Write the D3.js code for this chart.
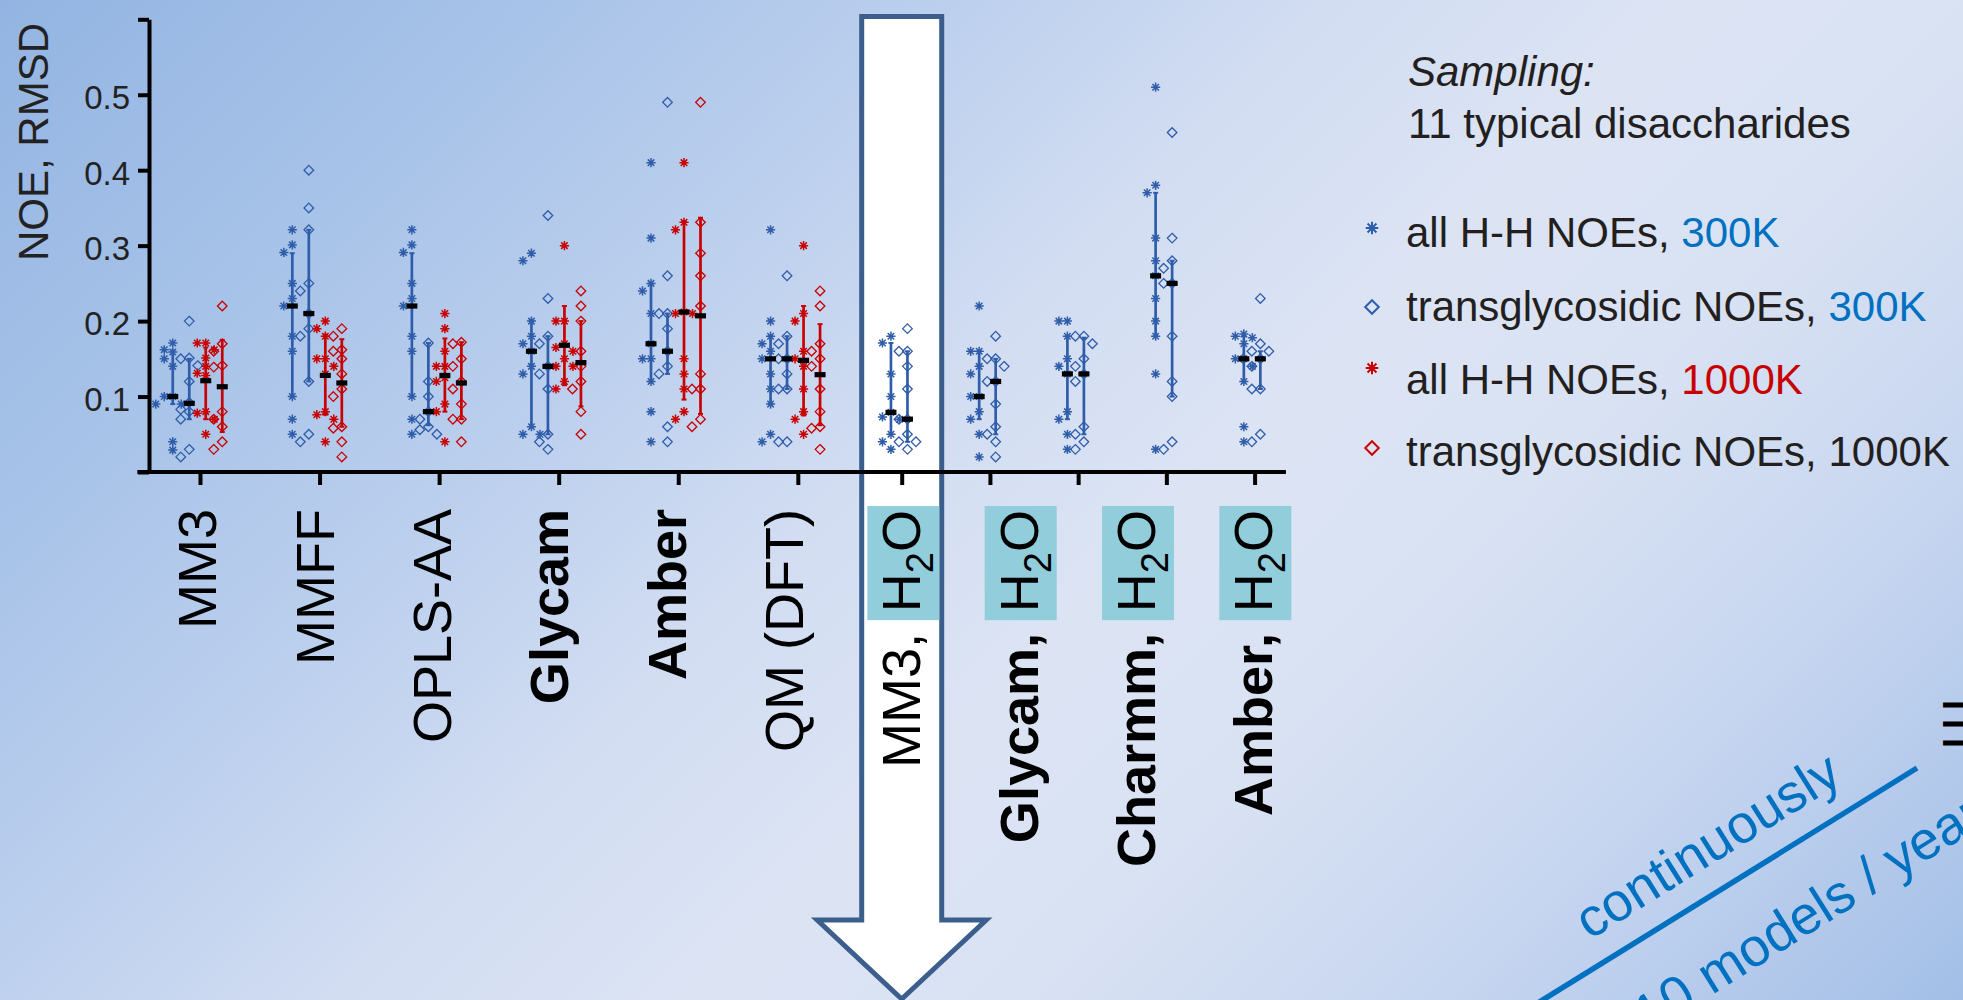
<!DOCTYPE html>
<html><head><meta charset="utf-8">
<script src="https://cdn.jsdelivr.net/npm/d3@7"></script>
<style>
html,body{margin:0;padding:0;overflow:hidden;background:#fff}
svg{display:block}
text{font-family:"Liberation Sans",Arial,Helvetica,sans-serif}
</style></head><body>
<svg id="chart" width="1963" height="1000"></svg>
<script>
// ---------------- data ----------------
// force-field / method groups along the x axis (11 data groups)
const groups = ["MM3","MMFF","OPLS-AA","Glycam","Amber","QM (DFT)",
                "MM3 aq","Glycam aq A","Glycam aq B","Charmm aq","Amber aq"];

// category captions written under the axis
const labelNames = ["MM3","MMFF","OPLS-AA","Glycam","Amber","QM (DFT)","MM3,","Glycam,","Charmm,","Amber,"];
const labelBold  = [false,false,false,true,true,false,false,true,true,true];
const labelWater = [false,false,false,false,false,false,true,true,true,true];

const yTicks = [0,0.1,0.2,0.3,0.4,0.5,0.6];

// RMSD per disaccharide: all H-H NOEs, 300 K
const hh300 = [
  [0.171,0.162,0.159,0.150,0.140,0.100,0.100,0.090,0.090,0.040,0.029],
  [0.321,0.301,0.291,0.250,0.230,0.220,0.180,0.160,0.100,0.070,0.050],
  [0.321,0.301,0.291,0.250,0.230,0.220,0.180,0.160,0.100,0.070,0.050],
  [0.290,0.280,0.200,0.180,0.170,0.160,0.140,0.130,0.060,0.050,0.050],
  [0.410,0.310,0.250,0.240,0.210,0.170,0.150,0.150,0.120,0.080,0.040],
  [0.321,0.200,0.180,0.170,0.160,0.150,0.130,0.110,0.090,0.050,0.040],
  [0.180,0.171,0.130,0.100,0.079,0.073,0.070,0.050,0.040,0.030],
  [0.220,0.160,0.160,0.140,0.130,0.100,0.100,0.080,0.070,0.050,0.020],
  [0.200,0.200,0.180,0.150,0.140,0.130,0.080,0.070,0.050,0.030],
  [0.510,0.380,0.370,0.310,0.280,0.260,0.230,0.200,0.180,0.130,0.030],
  [0.183,0.180,0.178,0.170,0.150,0.150,0.140,0.120,0.060,0.040]
];
// transglycosidic NOEs, 300 K
const tg300 = [
  [0.200,0.151,0.150,0.141,0.120,0.092,0.083,0.080,0.070,0.030,0.020],
  [0.400,0.350,0.321,0.250,0.240,0.210,0.190,0.180,0.120,0.050,0.040],
  [0.171,0.120,0.100,0.080,0.070,0.060,0.056,0.050],
  [0.340,0.230,0.180,0.170,0.140,0.130,0.110,0.050,0.040,0.030],
  [0.490,0.260,0.210,0.210,0.190,0.160,0.140,0.130,0.060,0.040],
  [0.260,0.180,0.170,0.150,0.150,0.130,0.110,0.110,0.040,0.040],
  [0.190,0.160,0.160,0.140,0.110,0.070,0.070,0.050,0.040,0.040,0.030],
  [0.180,0.150,0.150,0.140,0.120,0.120,0.090,0.060,0.050,0.040,0.020],
  [0.180,0.180,0.170,0.150,0.140,0.130,0.120,0.060,0.050,0.040,0.030],
  [0.450,0.310,0.280,0.270,0.250,0.250,0.180,0.120,0.100,0.040,0.030],
  [0.230,0.170,0.160,0.160,0.150,0.150,0.140,0.110,0.110,0.050,0.040]
];
// all H-H NOEs, 1000 K (gas-phase methods only)
const hh1000 = [
  [0.171,0.171,0.162,0.151,0.140,0.131,0.128,0.080,0.078,0.070,0.050],
  [0.200,0.190,0.180,0.150,0.150,0.140,0.130,0.080,0.076,0.070,0.040],
  [0.210,0.190,0.160,0.140,0.140,0.125,0.120,0.090,0.080,0.040],
  [0.300,0.200,0.200,0.170,0.165,0.160,0.150,0.140,0.140,0.120,0.110],
  [0.410,0.331,0.321,0.212,0.210,0.210,0.150,0.130,0.110,0.080,0.070],
  [0.300,0.210,0.200,0.160,0.150,0.140,0.110,0.080,0.070,0.050]
];
// transglycosidic NOEs, 1000 K
const tg1000 = [
  [0.220,0.170,0.160,0.141,0.139,0.080,0.070,0.060,0.040,0.030],
  [0.190,0.180,0.162,0.160,0.150,0.130,0.110,0.100,0.060,0.058,0.040,0.020],
  [0.172,0.170,0.150,0.140,0.120,0.110,0.090,0.070,0.070,0.040],
  [0.240,0.220,0.200,0.160,0.140,0.120,0.110,0.080,0.050],
  [0.490,0.331,0.290,0.260,0.220,0.130,0.110,0.110,0.070,0.060],
  [0.240,0.220,0.170,0.160,0.150,0.140,0.110,0.080,0.060,0.058,0.030]
];

// medians and interquartile ranges
const hh300Med = [0.100,0.220,0.220,0.160,0.170,0.150,0.079,0.100,0.130,0.260,0.150];
const hh300Q1  = [0.090,0.100,0.100,0.060,0.120,0.090,0.050,0.070,0.070,0.180,0.120];
const hh300Q3  = [0.161,0.290,0.290,0.200,0.250,0.180,0.171,0.160,0.180,0.370,0.180];
const tg300Med = [0.091,0.210,0.080,0.140,0.160,0.150,0.070,0.120,0.130,0.250,0.150];
const tg300Q1  = [0.070,0.120,0.062,0.050,0.130,0.110,0.040,0.050,0.050,0.100,0.110];
const tg300Q3  = [0.150,0.321,0.171,0.180,0.210,0.180,0.160,0.150,0.178,0.280,0.160];
const hh1000Med = [0.121,0.128,0.128,0.168,0.212,0.148];
const hh1000Q1  = [0.070,0.076,0.080,0.115,0.096,0.075];
const hh1000Q3  = [0.165,0.182,0.177,0.220,0.332,0.220];
const tg1000Med = [0.113,0.118,0.118,0.145,0.207,0.129];
const tg1000Q1  = [0.053,0.060,0.070,0.087,0.077,0.062];
const tg1000Q3  = [0.175,0.176,0.172,0.200,0.337,0.196];

// legend
const legendText  = ["all H-H NOEs, ","transglycosidic NOEs, ","all H-H NOEs, ","transglycosidic NOEs, "];
const legendTemp  = ["300K","300K","1000K","1000K"];

// ---------------- styling ----------------
const BLUE = "#2F5DA9", RED = "#C80000", INK = "#231F20", OFFICE_BLUE = "#0070C0";
const series = [
  {pts: hh300,  med: hh300Med,  q1: hh300Q1,  q3: hh300Q3,  color: BLUE, shape: "star"},
  {pts: tg300,  med: tg300Med,  q1: tg300Q1,  q3: tg300Q3,  color: BLUE, shape: "diamond"},
  {pts: hh1000, med: hh1000Med, q1: hh1000Q1, q3: hh1000Q3, color: RED,  shape: "star"},
  {pts: tg1000, med: tg1000Med, q1: tg1000Q1, q3: tg1000Q3, color: RED,  shape: "diamond"}
];
const legendTempColor = [OFFICE_BLUE, OFFICE_BLUE, RED, INK];
const legendSymbol = [0,1,2,3];

const svg = d3.select("#chart");
const W = 1963, H = 1000;

// ---------------- background ----------------
const defs = svg.append("defs");
const grad = defs.append("linearGradient").attr("id","bg")
  .attr("gradientUnits","userSpaceOnUse")
  .attr("x1",0).attr("y1",0).attr("x2",W*0.7547).attr("y2",W*0.7547);
[[0,"#93B4E2"],[0.17,"#A6C2E8"],[0.33,"#BDD0EE"],[0.45,"#D2DDF2"],[0.57,"#DCE4F4"],
 [0.68,"#D9E2F3"],[0.82,"#C7D6F0"],[1,"#A3BFE7"]].forEach(([o,c]) =>
  grad.append("stop").attr("offset",o).attr("stop-color",c));
svg.append("rect").attr("width",W).attr("height",H).attr("fill","url(#bg)");

// ---------------- scales ----------------
const y = d3.scaleLinear().domain([0,0.6]).range([472,19.3]);

// column layout: each group is as wide as its number of series plus a gap
const nSeries = groups.map((g,i) => series.filter(s => s.pts[i]).length);
const unit = 15.67, gapUnits = 3.63;
const centerSlot = [];
let slot = 0;
nSeries.forEach(n => { centerSlot.push(slot + n/2); slot += n + gapUnits; });
const xs = d3.scaleLinear().domain([0,1]).range([168.66, 168.66 + unit]);
const x = d3.scaleOrdinal().domain(groups).range(centerSlot.map(s => xs(s)));
const colStep = 16.5;
const colX = (gi, j) => x(groups[gi]) + (j - (nSeries[gi]-1)/2) * colStep - 2.5;

// ---------------- arrow behind the water-model groups ----------------
{
  const cx = x("MM3 aq");
  const top = 16.5, headY = 920, tip = 999, sw = 40, hw = 84.5;
  const p = d3.path();
  p.moveTo(cx-sw, top); p.lineTo(cx+sw, top); p.lineTo(cx+sw, headY); p.lineTo(cx+hw, headY);
  p.lineTo(cx, tip); p.lineTo(cx-hw, headY); p.lineTo(cx-sw, headY); p.closePath();
  svg.append("path").attr("d", p.toString()).attr("fill","#fff")
    .attr("stroke","#3B5E8C").attr("stroke-width",5).attr("stroke-linejoin","miter");
}

// ---------------- axes ----------------
const yAxis = d3.axisLeft(y).tickValues(yTicks).tickSize(11).tickSizeOuter(0).tickPadding(8)
  .tickFormat(d => (d > 0 && d < 0.6) ? d3.format(".1f")(d) : "");
const gy = svg.append("g").attr("transform","translate(149,0)").call(yAxis);
gy.select(".domain").attr("stroke","#000").attr("stroke-width",4);
gy.selectAll(".tick line").attr("stroke","#000").attr("stroke-width",4);
gy.selectAll(".tick text").attr("font-size",33).attr("fill","#222").attr("dy","0.42em")
  .attr("font-family",'"Liberation Sans",Arial,sans-serif');

const xAxis = d3.axisBottom(x).tickSize(13).tickSizeOuter(0).tickFormat("");
const gxA = svg.append("g").attr("transform",`translate(0,${y(0)})`).call(xAxis);
gxA.select(".domain").remove();
gxA.selectAll(".tick line").attr("stroke","#000").attr("stroke-width",4);
svg.append("line")
  .attr("x1", xs(centerSlot[0] - 4)).attr("x2", x(groups[groups.length-1]) + 2*unit)
  .attr("y1", y(0)).attr("y2", y(0)).attr("stroke","#000").attr("stroke-width",4);

svg.append("text").text("NOE, RMSD")
  .attr("transform","translate(48,142) rotate(-90)")
  .attr("text-anchor","middle").attr("font-size",42).attr("fill","#222");

// ---------------- symbols ----------------
function starPath(r){
  const a = r*0.7071;
  return `M0,${-r}L0,${r}M${-r},0L${r},0M${-a},${-a}L${a},${a}M${-a},${a}L${a},${-a}`;
}
function diamondPath(r){ return `M0,${-r}L${r},0L0,${r}L${-r},0Z`; }

// spread coincident points sideways so each stays visible
function dodge(values, cx){
  const pts = values.map(v => ({v, py: y(v)})).sort((a,b) => a.py - b.py);
  const placed = [];
  const step = 8.5;
  pts.forEach(p => {
    for (const k of [0,-1,1,-2,2,-3,3]) {
      const px = cx + k*step;
      if (!placed.some(q => Math.abs(q.px - px) < 7 && Math.abs(q.py - p.py) < 7.8)) { p.px = px; break; }
    }
    if (p.px === undefined) p.px = cx;
    placed.push(p);
  });
  return placed;
}

// ---------------- data marks ----------------
const plot = svg.append("g");
groups.forEach((g, gi) => {
  let j = 0;
  series.forEach(s => {
    if (!s.pts[gi]) return;
    const cx = colX(gi, j++);
    // interquartile range
    const eb = plot.append("g").attr("stroke", s.color).attr("stroke-width", 2.7);
    eb.append("line").attr("x1",cx).attr("x2",cx).attr("y1",y(s.q3[gi])).attr("y2",y(s.q1[gi]));
    [s.q3[gi], s.q1[gi]].forEach(v => eb.append("line")
      .attr("x1",cx-2.5).attr("x2",cx+2.5).attr("y1",y(v)).attr("y2",y(v)).attr("stroke-width",2));
    // individual disaccharides
    dodge(s.pts[gi], cx).forEach(p => {
      plot.append("path")
        .attr("d", s.shape === "star" ? starPath(4.6) : diamondPath(4.8))
        .attr("transform", `translate(${p.px},${p.py})`)
        .attr("fill","none").attr("stroke", s.color)
        .attr("stroke-width", s.shape === "star" ? 1.5 : 1.3);
    });
    s._cx = s._cx || [];
    s._cx[gi] = cx;
  });
});
// medians on top
groups.forEach((g, gi) => {
  series.forEach(s => {
    if (!s.pts[gi]) return;
    const cx = s._cx[gi];
    plot.append("rect").attr("x", cx-5.5).attr("y", y(s.med[gi])-2.6)
      .attr("width",11).attr("height",5.2).attr("fill","#000");
  });
});

// ---------------- category captions ----------------
const labelX = d3.scalePoint().domain(labelNames).range([197, 1253]);
const LF = 54;
labelNames.forEach((name, i) => {
  const bx = labelX(name) + 0.358*LF;
  if (!labelWater[i]) {
    svg.append("text").text(name)
      .attr("transform", `translate(${bx},509) rotate(-90)`)
      .attr("text-anchor","end").attr("font-size",LF)
      .attr("font-weight", labelBold[i] ? "bold" : "normal").attr("fill","#000");
  } else {
    const gW = svg.append("g");
    const box = gW.append("rect");
    const t = gW.append("text")
      .attr("transform", `translate(${bx},510) rotate(-90)`)
      .attr("text-anchor","end").attr("font-size",LF).attr("fill","#000");
    t.append("tspan").text("H");
    t.append("tspan").text("2").attr("font-size",38).attr("dy",13);
    t.append("tspan").text("O").attr("dy",-13);
    const len = t.node().getComputedTextLength();
    box.attr("x", bx-53).attr("width",72).attr("y", 506).attr("height", len + 12)
      .attr("fill","#92CDDC");
    svg.append("text").text(name)
      .attr("transform", `translate(${bx},633) rotate(-90)`)
      .attr("text-anchor","end").attr("font-size",LF)
      .attr("font-weight", labelBold[i] ? "bold" : "normal").attr("fill","#000");
  }
});

// ---------------- legend ----------------
const lg = svg.append("g").attr("fill",INK);
lg.append("text").text("Sampling:").attr("x",1408).attr("y",86)
  .attr("font-size",42).attr("font-style","italic");
lg.append("text").text("11 typical disaccharides").attr("x",1408).attr("y",138).attr("font-size",42);
const legBase = [247,321,394,466], legSymY = [228,307,368,448];
legendText.forEach((txt, i) => {
  const t = lg.append("text").attr("x",1406).attr("y",legBase[i]).attr("font-size",42);
  t.append("tspan").text(txt);
  t.append("tspan").text(legendTemp[i]).attr("fill", legendTempColor[i]);
  const s = series[legendSymbol[i]];
  lg.append("path")
    .attr("d", s.shape === "star" ? starPath(6.3) : diamondPath(6.8))
    .attr("transform", `translate(1372,${legSymY[i]})`)
    .attr("fill","none").attr("stroke", s.color).attr("stroke-width", 2);
});

// ---------------- growth note, lower right ----------------
svg.append("line").attr("x1",1520).attr("y1",1014).attr("x2",1917).attr("y2",768)
  .attr("stroke",OFFICE_BLUE).attr("stroke-width",5.5);
svg.append("text").text("continuously")
  .attr("transform","translate(1717,861) rotate(-32)")
  .attr("text-anchor","middle").attr("font-size",54).attr("fill",OFFICE_BLUE);
svg.append("text").text("10 models / year")
  .attr("transform","translate(1648,1035) rotate(-32)")
  .attr("font-size",54).attr("fill",OFFICE_BLUE);
svg.append("text").text("III")
  .attr("transform","translate(1943,700) rotate(90)")
  .attr("font-size",36).attr("font-weight","bold").attr("letter-spacing",9).attr("fill","#000");
</script>
</body></html>
